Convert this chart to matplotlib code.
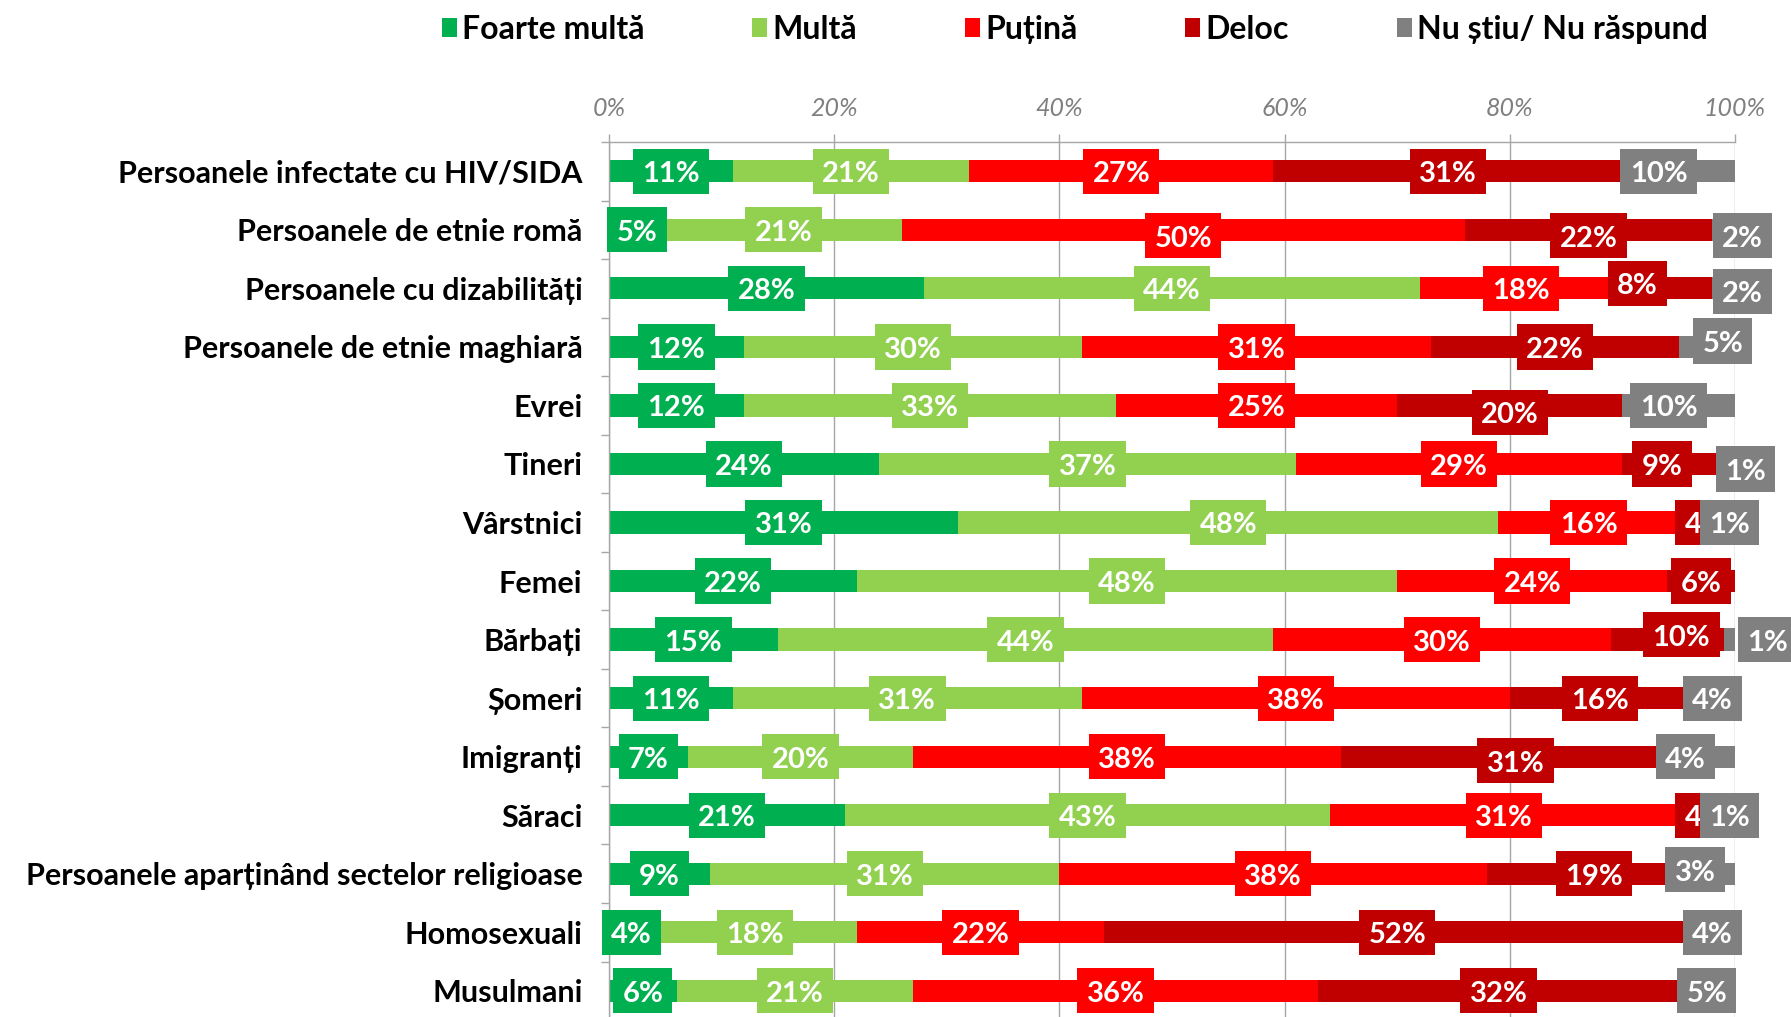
import matplotlib
matplotlib.use('Agg')
import matplotlib.pyplot as plt
import numpy as np
from matplotlib.patches import Rectangle
from matplotlib.path import Path

# ---------------- data ----------------
categories = [
    'Persoanele infectate cu HIV/SIDA',
    'Persoanele de etnie romă',
    'Persoanele cu dizabilități',
    'Persoanele de etnie maghiară',
    'Evrei',
    'Tineri',
    'Vârstnici',
    'Femei',
    'Bărbați',
    'Șomeri',
    'Imigranți',
    'Săraci',
    'Persoanele aparținând sectelor religioase',
    'Homosexuali',
    'Musulmani',
]
foarte_multa = [11, 5, 28, 12, 12, 24, 31, 22, 15, 11, 7, 21, 9, 4, 6]
multa        = [21, 21, 44, 30, 33, 37, 48, 48, 44, 31, 20, 43, 31, 18, 21]
putina       = [27, 50, 18, 31, 25, 29, 16, 24, 30, 38, 38, 31, 38, 22, 36]
deloc        = [31, 22, 8, 22, 20, 9, 4, 6, 10, 16, 31, 4, 19, 52, 32]
nu_stiu      = [10, 2, 2, 5, 10, 1, 1, 0, 1, 4, 4, 1, 3, 4, 5]
series_names = ['Foarte multă', 'Multă', 'Puțină', 'Deloc', 'Nu știu/ Nu răspund']
x_ticks = [0, 20, 40, 60, 80, 100]
x_tick_labels = ['0%', '20%', '40%', '60%', '80%', '100%']

# ---------------- style ----------------
colors = ['#00B050', '#92D050', '#FF0000', '#C00000', '#808080']
GRID = '#A6A6A6'
# label nudges (pixels, dx right / dy up) imitating the reference's label placement
NUDGE = {
    (0, 4): (-20, 0),
    (1, 2): (0, -6), (1, 3): (0, -6), (1, 4): (19, -6),
    (2, 3): (-30, 5), (2, 4): (19, -3),
    (3, 4): (16, 6),
    (4, 3): (0, -7), (4, 4): (-10, 0),
    (5, 3): (-11, 0), (5, 4): (16, -5),
    (6, 3): (4, 0), (11, 3): (4, 0),
    (8, 3): (14, 5), (8, 4): (38, 0),
    (10, 3): (0, -4), (10, 4): (-27, 0),
    (12, 4): (-23, 4),
}
BASE_DY = -3  # visual centring of the digits on the bar


def label_box(x0, y0, width, height, mutation_size):
    padx = 0.32 * mutation_size
    h = 1.55 * mutation_size
    cy = y0 + height / 2 + 0.1 * mutation_size
    xa, xb = x0 - padx, x0 + width + padx
    ya, yb = cy - h / 2, cy + h / 2
    return Path([(xa, ya), (xb, ya), (xb, yb), (xa, yb), (xa, ya)], closed=True)


plt.rcParams['font.family'] = ['Lato', 'DejaVu Sans']

fig = plt.figure(figsize=(17.91, 10.17), dpi=100)
ax = fig.add_axes([0.3400, -0.003, 0.6287, 0.8634])

y = np.arange(len(categories))
series = [foarte_multa, multa, putina, deloc, nu_stiu]
left = np.zeros(len(categories))
BAR_H = 0.38
for si, (vals, col) in enumerate(zip(series, colors)):
    vals = np.array(vals, dtype=float)
    ax.barh(y, vals, left=left, height=BAR_H, color=col, edgecolor='none', zorder=2)
    for ri in range(len(categories)):
        v = vals[ri]
        if v <= 0:
            continue
        cx = left[ri] + v / 2
        dx, dy = NUDGE.get((ri, si), (0, 0))
        ax.annotate(f'{v:.0f}%', xy=(cx, y[ri]), xytext=(dx, dy + BASE_DY),
                    textcoords='offset pixels', ha='center', va='center',
                    color='white', fontsize=21, fontweight='bold',
                    bbox=dict(boxstyle=label_box, fc=col, ec='none'),
                    zorder=4, annotation_clip=False)
    left += vals

ax.set_xlim(0, 100)
ax.set_ylim(len(categories) - 0.5, -0.5)
ax.xaxis.tick_top()
ax.set_xticks(x_ticks)
ax.set_xticklabels(x_tick_labels, fontsize=18, fontstyle='italic', color='#808080')
ax.tick_params(axis='x', length=6, color=GRID, width=1, pad=10)

ax.set_yticks(y)
ax.set_yticklabels(categories, fontsize=22, fontweight='bold', color='black')
ax.tick_params(axis='y', which='major', length=0, pad=19)
ax.set_yticks(np.arange(-0.5, len(categories), 1), minor=True)
ax.tick_params(axis='y', which='minor', length=6, color=GRID, width=1)

ax.grid(axis='x', color=GRID, linewidth=1)
ax.set_axisbelow(True)
for s in ['right', 'bottom']:
    ax.spines[s].set_visible(False)
for s in ['left', 'top']:
    ax.spines[s].set_color(GRID)
    ax.spines[s].set_linewidth(1)

handles = [Rectangle((0, 0), 1, 1, fc=c, ec='none') for c in colors]
fig.legend(handles, series_names, loc='center', bbox_to_anchor=(0.600, 0.971),
           ncol=5, frameon=False, prop=dict(weight='bold', size=23),
           handlelength=0.47, handleheight=0.55, handletextpad=0.16,
           columnspacing=3.38, borderaxespad=0, borderpad=0)

fig.savefig('out.png', dpi=100)
